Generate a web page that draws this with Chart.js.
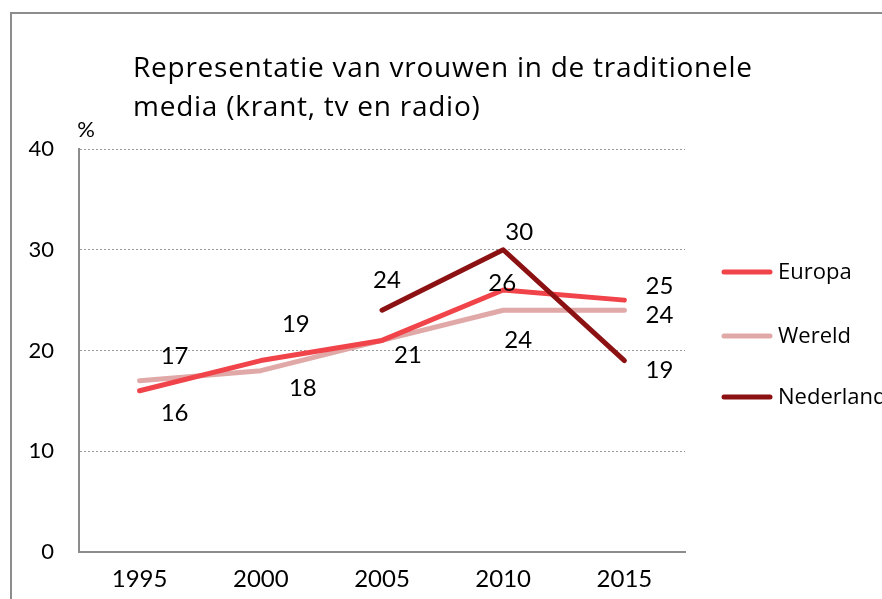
<!DOCTYPE html>
<html>
<head>
<meta charset="utf-8">
<script src="https://cdn.jsdelivr.net/npm/chart.js@4"></script>
<style>
  html, body { margin: 0; padding: 0; background: #fff; }
  #c { display: block; }
</style>
</head>
<body>
<canvas id="c" width="882" height="599"></canvas>
<script>
// ---- data ----
const categories = ['1995', '2000', '2005', '2010', '2015'];
const europa = [16, 19, 21, 26, 25];
const wereld = [17, 18, 21, 24, 24];
const nederland = [null, null, 24, 30, 19];
const seriesNames = ['Europa', 'Wereld', 'Nederland'];
const yTicks = [0, 10, 20, 30, 40];
const titleLines = ['Representatie van vrouwen in de traditionele', 'media (krant, tv en radio)'];
const unitLabel = '%';

// ---- styles ----
const FONT = 'Lato, "Open Sans", sans-serif';
const TEXT_FONT = '"Open Sans", Lato, sans-serif';
const colors = ['#f0444a', '#e0a9a8', '#8b1113'];
// pixel offsets of the value labels relative to each point (null = no label)
const labelOffsets = [
  [[35, 22], [35, -36], [26, 15], [-1, -7], [35, -14]],
  [[35, -24], [42, 18], null, [15, 30], [35, 5]],
  [null, null, [5, -30], [16, -17], [35, 10]]
];

function spacedText(ctx, text, x, y, spacing) {
  if ('letterSpacing' in ctx) {
    ctx.letterSpacing = spacing + 'px';
    ctx.fillText(text, x, y);
    ctx.letterSpacing = '0px';
  } else {
    ctx.fillText(text, x, y);
  }
}

const decorPlugin = {
  id: 'decor',
  beforeDraw(chart) {
    const ctx = chart.ctx;
    ctx.save();
    ctx.fillStyle = '#fff';
    ctx.fillRect(0, 0, chart.width, chart.height);
    ctx.strokeStyle = '#8c8c8c';
    ctx.lineWidth = 2;
    ctx.strokeRect(11, 13, 2000, 2000);
    ctx.restore();
  },
  afterDraw(chart) {
    const ctx = chart.ctx;
    ctx.save();
    // title
    ctx.fillStyle = '#000';
    ctx.font = '28px ' + TEXT_FONT;
    ctx.textAlign = 'left';
    ctx.textBaseline = 'alphabetic';
    const w0 = ctx.measureText(titleLines[0]).width;
    const sp = Math.max(0, (619 - w0) / (titleLines[0].length - 1));
    spacedText(ctx, titleLines[0], 133, 77, sp);
    spacedText(ctx, titleLines[1], 133, 116, sp);
    // unit
    ctx.font = '22px ' + FONT;
    ctx.textAlign = 'center';
    ctx.textBaseline = 'middle';
    ctx.fillText(unitLabel, 86, 130);
    // legend
    const legendY = [272, 336, 397];
    ctx.font = '22px ' + TEXT_FONT;
    ctx.textAlign = 'left';
    const we = ctx.measureText(seriesNames[0]).width;
    const lsp = Math.max(0, (72 - we) / (seriesNames[0].length - 1));
    chart.data.datasets.forEach((ds, i) => {
      ctx.strokeStyle = ds.borderColor;
      ctx.lineWidth = 5;
      ctx.lineCap = 'round';
      ctx.beginPath();
      ctx.moveTo(724, legendY[i]);
      ctx.lineTo(770, legendY[i]);
      ctx.stroke();
      ctx.fillStyle = '#000';
      spacedText(ctx, ds.label, 778, legendY[i] + 1, lsp);
    });
    ctx.restore();
  },
  afterDatasetsDraw(chart) {
    const ctx = chart.ctx;
    ctx.save();
    ctx.fillStyle = '#000';
    ctx.font = '24px ' + FONT;
    ctx.textAlign = 'center';
    ctx.textBaseline = 'middle';
    chart.data.datasets.forEach((ds, i) => {
      const meta = chart.getDatasetMeta(i);
      ds.data.forEach((v, j) => {
        const off = labelOffsets[i][j];
        if (v === null || !off) return;
        const pt = meta.data[j];
        ctx.fillText(String(v), pt.x + off[0], pt.y + off[1]);
      });
    });
    ctx.restore();
  }
};

const allSeries = [europa, wereld, nederland];
const orders = [1, 2, 0];

new Chart(document.getElementById('c'), {
  type: 'line',
  data: {
    labels: categories,
    datasets: allSeries.map((s, i) => ({
      label: seriesNames[i],
      data: s,
      borderColor: colors[i],
      backgroundColor: colors[i],
      borderWidth: 5,
      borderCapStyle: 'round',
      borderJoinStyle: 'round',
      pointRadius: 0,
      tension: 0,
      fill: false,
      order: orders[i]
    }))
  },
  options: {
    responsive: false,
    animation: false,
    devicePixelRatio: 1,
    layout: { padding: { left: 0, top: 149, right: 197, bottom: 0 } },
    plugins: {
      legend: { display: false },
      title: { display: false },
      tooltip: { enabled: false }
    },
    scales: {
      x: {
        offset: true,
        grid: { display: false, drawTicks: false },
        border: { display: true, color: '#8c8c8c', width: 2 },
        ticks: { color: '#000', font: { family: FONT, size: 24 }, padding: 13, maxRotation: 0 },
        afterFit(scale) { scale.height = 47; }
      },
      y: {
        min: yTicks[0],
        max: yTicks[yTicks.length - 1],
        afterBuildTicks(scale) { scale.ticks = yTicks.map(v => ({ value: v })); },
        grid: {
          drawTicks: false,
          color: (c) => (c.tick && c.tick.value === 0) ? 'rgba(0,0,0,0)' : '#9a9a9a',
          lineWidth: 1
        },
        border: { display: true, color: '#8c8c8c', width: 2, dash: [2, 2] },
        ticks: { color: '#000', font: { family: FONT, size: 22 }, padding: 25 },
        afterFit(scale) { scale.width = 79; }
      }
    }
  },
  plugins: [decorPlugin]
});
</script>
</body>
</html>
